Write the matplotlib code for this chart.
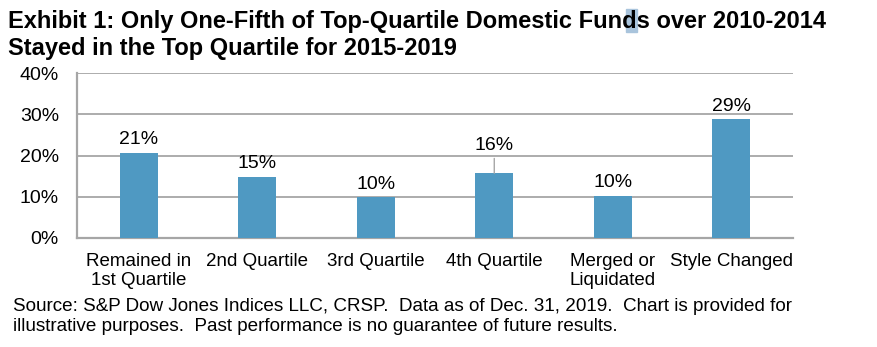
import matplotlib
matplotlib.use("Agg")
import matplotlib.pyplot as plt
from matplotlib.patches import Rectangle
from matplotlib.ticker import FuncFormatter

categories = ["Remained in\n1st Quartile", "2nd Quartile", "3rd Quartile",
              "4th Quartile", "Merged or\nLiquidated", "Style Changed"]
values = [20.7, 14.9, 9.9, 15.7, 10.3, 28.8]
labels = ["21%", "15%", "10%", "16%", "10%", "29%"]
yticks = [0, 10, 20, 30, 40]

plt.rcParams['font.family'] = ['Liberation Sans', 'DejaVu Sans']

fig = plt.figure(figsize=(8.78, 3.47), dpi=100)
ax = fig.add_axes([77/878, 1-238/347, 716/878, 165/347])

bar_color = "#4F99C2"
grid_color = "#A6A6A6"
x = list(range(len(categories)))
ax.bar(x, values, width=0.32, color=bar_color, zorder=3)
ax.set_xlim(-0.52, len(categories)-0.48)
ax.set_ylim(0, 40)
ax.set_yticks(yticks)
ax.yaxis.set_major_formatter(FuncFormatter(lambda v, p: f"{int(v)}%"))
ax.set_xticks(x)
ax.set_xticklabels(categories, fontsize=13.5, linespacing=1.12)
ax.tick_params(axis='y', length=0, labelsize=14, colors="black", pad=13)
ax.tick_params(axis='x', length=0, colors="black", pad=11)
ax.yaxis.grid(True, color=grid_color, linewidth=1.3, zorder=0)
ax.set_axisbelow(True)
for s in ["top", "right"]:
    ax.spines[s].set_visible(False)
for s in ["left", "bottom"]:
    ax.spines[s].set_color(grid_color)
    ax.spines[s].set_linewidth(1.6)

for i, (v, lab) in enumerate(zip(values, labels)):
    if i == 3:
        ax.annotate(lab, xy=(i, v), xytext=(i, v + 4.6), ha='center', va='bottom',
                    fontsize=14, arrowprops=dict(arrowstyle='-', color=grid_color,
                                                 lw=1.0, shrinkA=1, shrinkB=0))
    else:
        ax.text(i, v + 1.0, lab, ha='center', va='bottom', fontsize=14)

# highlight artifact behind the "d" in the title
fig.patches.append(Rectangle((626/878, 1-32/347), 11/878, 23/347,
                             transform=fig.transFigure, color="#A9C4DC", zorder=0))

fig.text(8/878, 1-10/347,
         "Exhibit 1: Only One-Fifth of Top-Quartile Domestic Funds over 2010-2014\n"
         "Stayed in the Top Quartile for 2015-2019",
         ha='left', va='top', fontsize=17, fontweight='bold',
         linespacing=1.25, zorder=2)

fig.text(13/878, 1-298/347,
         "Source: S&P Dow Jones Indices LLC, CRSP.  Data as of Dec. 31, 2019.  Chart is provided for\n"
         "illustrative purposes.  Past performance is no guarantee of future results.",
         ha='left', va='top', fontsize=13.6, linespacing=1.25)

fig.savefig("out.png", dpi=100)
